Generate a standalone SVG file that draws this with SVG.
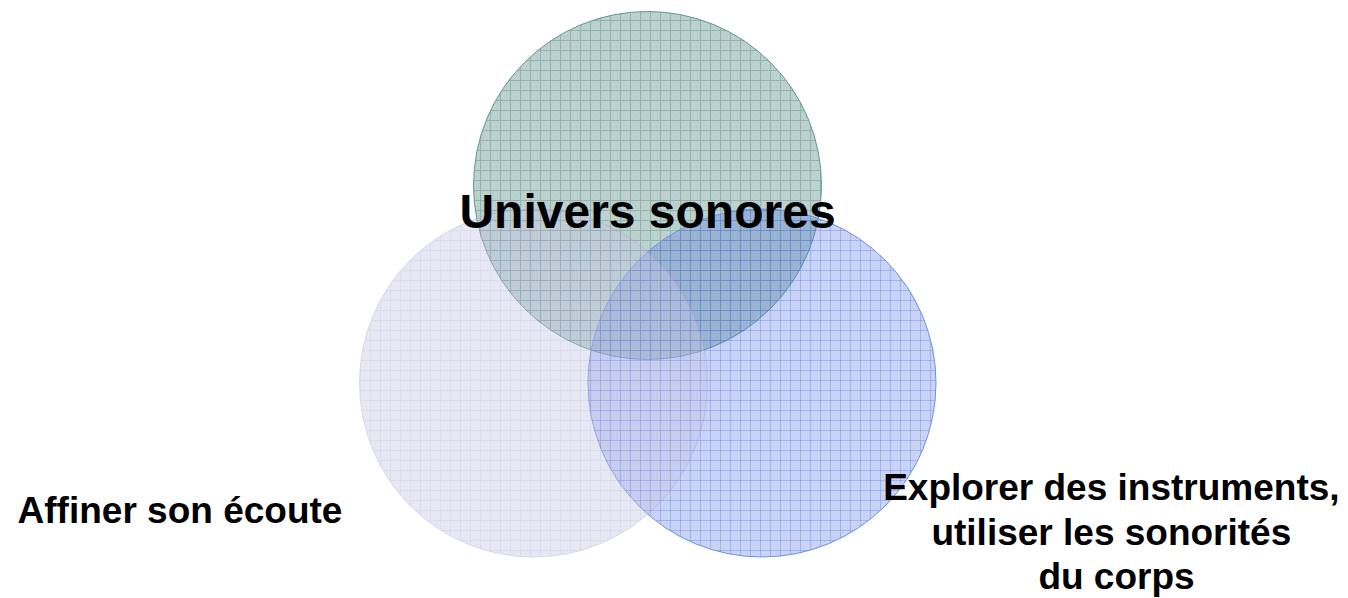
<svg xmlns="http://www.w3.org/2000/svg" width="1348" height="598" viewBox="0 0 1348 598">
  <style>
    .lbl { font-family: "Liberation Sans", Arial, sans-serif; font-weight: bold; fill: #000; }
  </style>
  <defs>
    <pattern id="gridTeal" width="10" height="10" patternUnits="userSpaceOnUse">
      <rect width="10" height="10" fill="#bdd2cf"/>
      <rect x="2" y="2" width="1" height="1" fill="#afc8c4"/>
      <rect x="6" y="6" width="1" height="1" fill="#afc8c4"/>
      <rect width="10" height="1" fill="#8fb4af"/>
      <rect width="1" height="10" fill="#8fb4af"/>
    </pattern>
    <pattern id="gridBlue" width="10" height="10" patternUnits="userSpaceOnUse">
      <rect width="10" height="10" fill="#5378e2" fill-opacity="0.32"/>
      <rect width="10" height="1" fill="#446ee3" fill-opacity="0.3"/>
      <rect width="1" height="10" fill="#446ee3" fill-opacity="0.3"/>
    </pattern>
    <pattern id="gridLav" width="10" height="10" patternUnits="userSpaceOnUse">
      <rect width="10" height="10" fill="#c6c6e4"/>
      <rect width="10" height="1" fill="#a9a9d8"/>
      <rect width="1" height="10" fill="#a9a9d8"/>
    </pattern>
  </defs>
  <rect width="1348" height="598" fill="#ffffff"/>
  <g id="node-univers">
    <circle cx="647.5" cy="185.5" r="174" fill="url(#gridTeal)" stroke="#5f9690" stroke-width="1"/>
  </g>
  <g id="node-explorer">
    <circle cx="762" cy="383" r="174" fill="url(#gridBlue)" stroke="#6f8fe6" stroke-width="1"/>
  </g>
  <g id="node-affiner" opacity="0.4">
    <circle cx="533.5" cy="383" r="174" fill="url(#gridLav)" stroke="#9c9cd6" stroke-width="1"/>
  </g>
  <g id="connectors"></g>
  <g id="labels">
    <text class="lbl" x="647.5" y="228" font-size="48" text-anchor="middle">Univers sonores</text>
    <text class="lbl" x="180" y="523" font-size="37" text-anchor="middle">Affiner son écoute</text>
    <text class="lbl" font-size="37" text-anchor="middle">
      <tspan x="1116.5" y="500">Explorer des instruments,</tspan>
      <tspan x="1116.5" y="544.5">utiliser les sonorités</tspan>
      <tspan x="1116.5" y="589">du corps</tspan>
    </text>
  </g>
</svg>
